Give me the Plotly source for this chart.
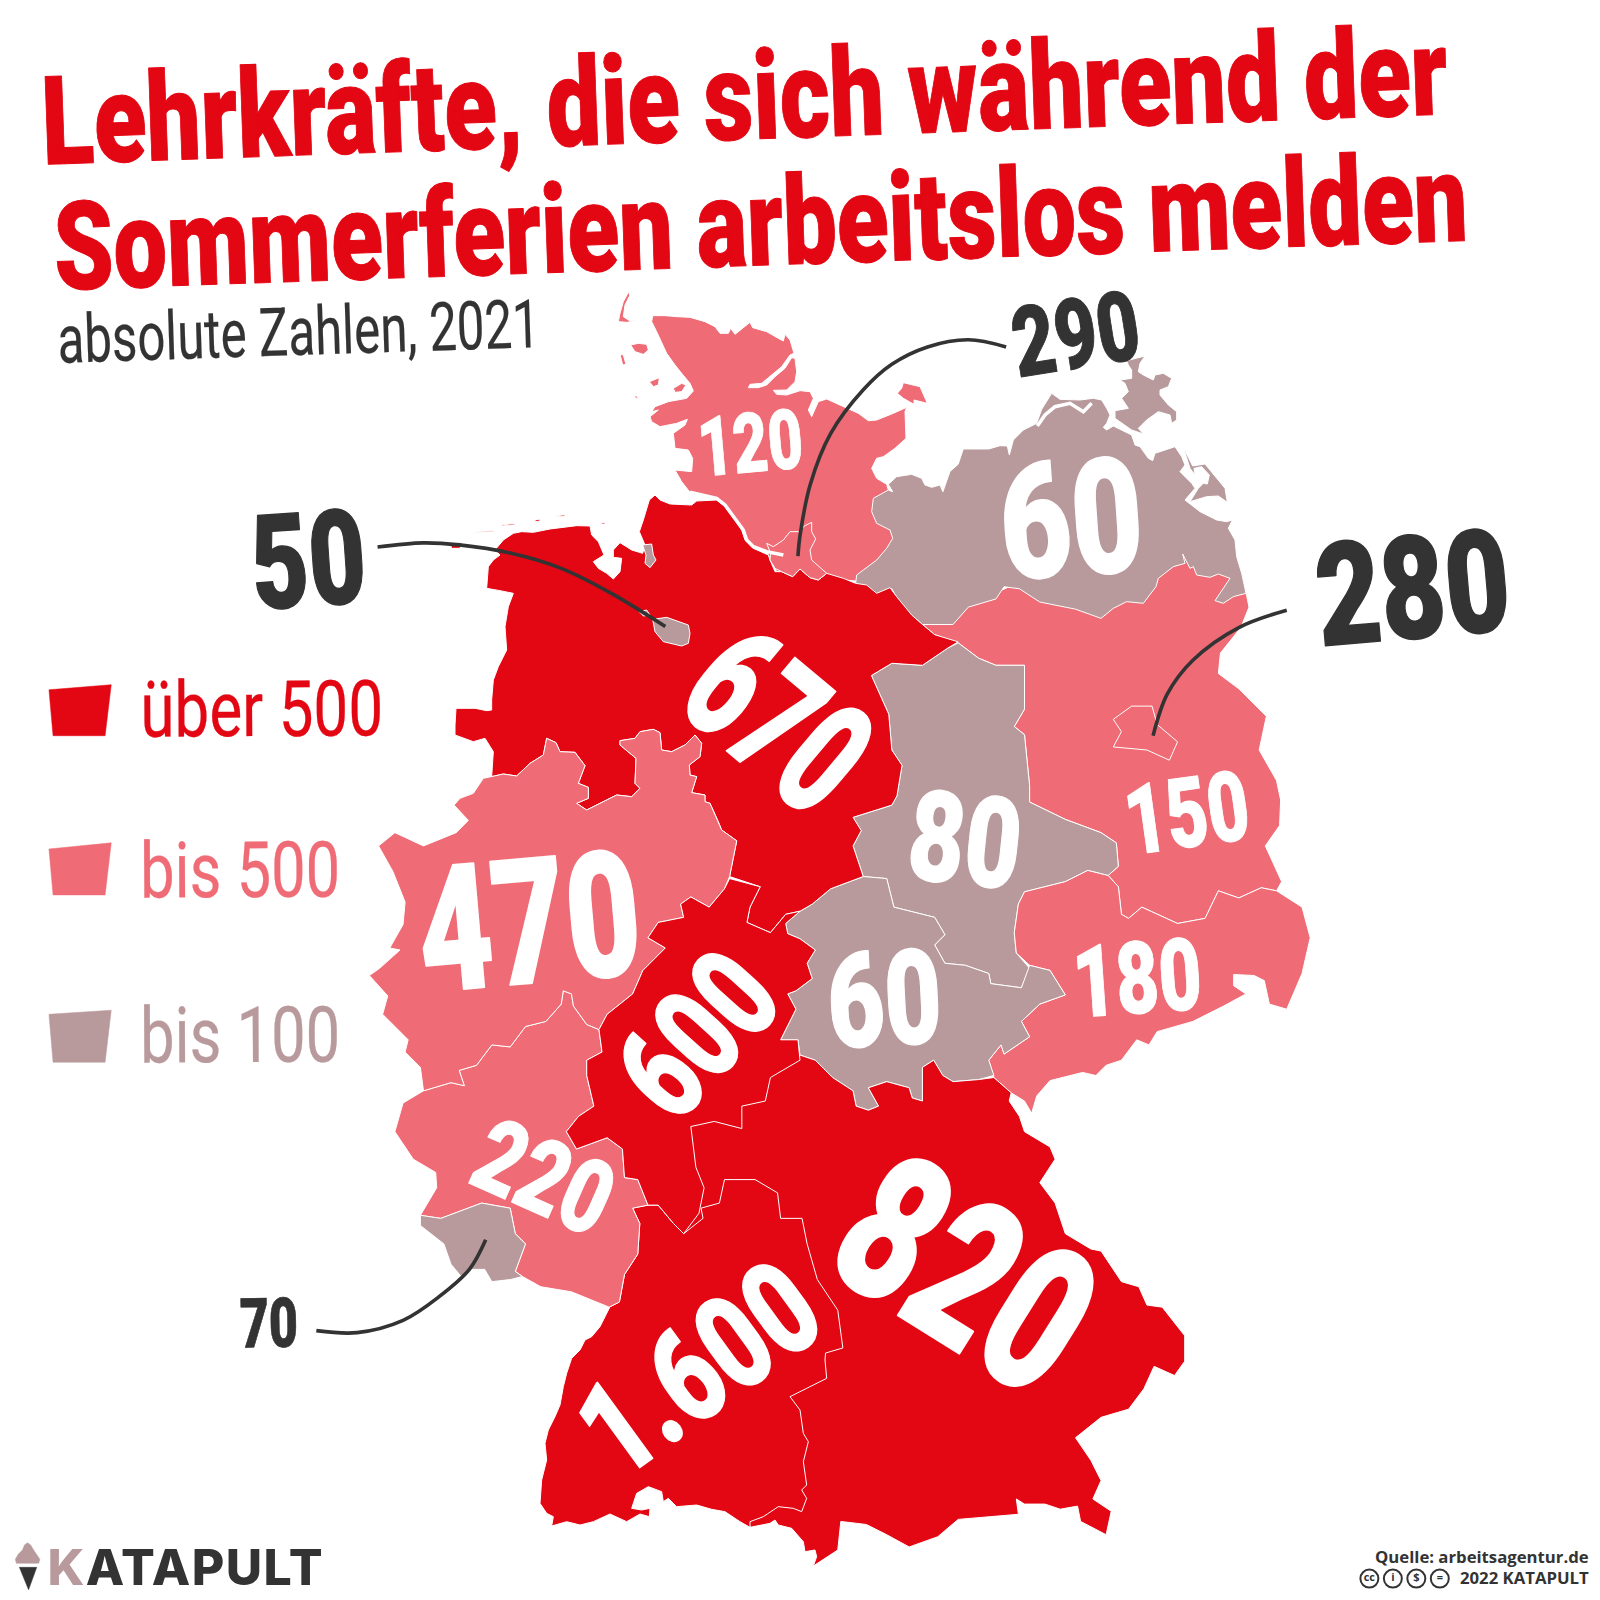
import json
import plotly.graph_objects as go

RED = "#e30613"
PINK = "#ef6b75"
MAUVE = "#b99a9c"
DARK = "#333333"
W_UNITS = 1568.0
PX = 1600.0 / W_UNITS

# --- category values ---
state_names = ["Schleswig-Holstein", "Hamburg", "Mecklenburg-Vorpommern", "Brandenburg", "Berlin",
               "Sachsen-Anhalt", "Thüringen", "Sachsen", "Bayern", "Baden-Württemberg", "Hessen",
               "Rheinland-Pfalz", "Saarland", "Niedersachsen", "Nordrhein-Westfalen", "Bremen"]
state_values = [120, 290, 60, 150, 280, 80, 60, 180, 820, 1600, 600, 220, 70, 670, 470, 50]
legend_labels = ["über 500", "bis 500", "bis 100"]


def bucket(v):
    return RED if v > 500 else PINK if v > 100 else MAUVE


def cr(ox, oy, pts):
    """outline traced on a 3x enlargement whose corner is (ox, oy) -> map units"""
    return [((ox + x / 3) / PX, (oy + y / 3) / PX) for x, y in pts]


def A(pts):
    return cr(610, 285, pts)


def B(pts):
    return cr(1000, 340, pts)


def C(pts):
    return cr(450, 500, pts)


def D(pts):
    return cr(530, 1290, pts)


# --- outlines ---
SH = A([(128,92),(165,92),(200,95),(240,97),(285,110),(315,125),(330,145),(355,145),(362,130),(375,148),(400,128),(420,112),(428,128),(470,140),(505,160),(520,168),(525,148),(540,165),(552,205),(540,210),(515,245),(480,275),(455,295),(420,298),(415,308),(445,308),(470,300),(495,275),(525,250),(545,218),(555,220),(560,260),(555,290),(530,315),(490,316),(500,328),(530,330),(570,317),(600,320),(610,340),(595,375),(605,395),(625,350),(650,342),(700,365),(745,385),(775,407),(800,405),(850,385),(890,367),(885,380),(888,460),(855,490),(820,515),(800,520),(785,550),(800,580),(830,598),(835,615),(860,700),(860,800),(760,890),(650,880),(500,860),(470,800),(430,785),(405,755),(400,730),(375,700),(345,660),(320,640),(260,625),(240,622),(215,590),(195,555),(245,560),(248,520),(235,495),(195,490),(190,445),(225,420),(232,403),(200,415),(150,425),(125,410),(120,395),(145,375),(125,380),(135,365),(175,350),(230,340),(250,318),(240,295),(215,265),(195,240),(170,205),(155,170),(140,140),(125,110)])
FEHMARN = A([(880,293),(905,300),(930,305),(952,355),(912,345),(912,358),(880,340),(862,325),(875,310)])
SYLT = A([(55,22),(40,50),(30,85),(25,110),(50,112),(95,105),(60,108),(40,95),(45,60),(60,30)])
FOEHR = A([(62,180),(85,175),(110,178),(115,195),(100,208),(75,200)])
AMRUM = A([(30,208),(40,210),(48,238),(38,240)])
NORDSTRAND = A([(190,310),(215,295),(228,300),(215,320),(195,322)])
PELLWORM = A([(118,290),(148,278),(145,300),(130,305)])
ISLET = A([(75,330),(82,335),(85,342),(75,338)])
HH = A([(470,775),(490,785),(520,765),(540,740),(565,740),(585,722),(605,712),(605,740),(617,762),(600,795),(605,825),(650,865),(625,885),(600,878),(570,852),(548,875),(515,860),(495,850),(480,825),(482,805)])
MV = A([(737,895),(740,870),(760,855),(800,825),(830,790),(848,760),(840,735),(800,715),(785,680),(790,640),(835,615),(848,620),(835,598),(860,575),(905,568),(935,580),(945,600),(965,607),(990,600)]) + [(924,482),(931,462),(939,455),(944,440),(969,440)] + B([(0,317),(22,318),(28,345),(40,300),(70,270),(110,250),(125,208),(155,160),(180,178),(240,180),(280,175),(305,180),(320,205),(330,225),(320,250),(310,262),(320,270),(340,258),(395,285),(405,315),(420,320),(445,355),(458,362),(465,340),(525,320),(545,350),(555,375),(540,395),(575,430),(585,445),(555,480),(600,515),(650,540),(680,545),(697,540),(685,565),(705,600),(710,650),(725,700),(738,760),(700,770),(670,790),(645,782),(690,715),(655,702),(630,712),(590,705),(580,680),(570,685),(548,642),(555,670),(520,680),(475,715),(468,740),(430,790),(380,785),(340,805)]) + [(1079,606),(1054,597),(1019,590),(999,577),(984,575),(976,587),(949,595),(934,612),(904,612),(884,595),(874,577),(859,582)]
RUEGEN = B([(380,62),(410,55),(435,48),(420,70),(415,95),(430,105),(460,120),(465,105),(490,100),(515,115),(505,140),(480,150),(480,165),(505,195),(530,215),(530,240),(515,250),(510,225),(475,215),(440,240),(415,265),(430,282),(395,270),(345,235),(345,212),(385,205),(365,175),(385,155),(375,130),(360,120),(395,115),(395,90),(385,75)])
USEDOM = B([(550,322),(578,378),(615,372),(675,445),(682,487),(655,468),(620,470),(590,480),(570,485),(595,445),(610,430),(622,432),(628,405),(605,380),(582,385),(585,405),(570,385)])
BB = [(904,612),(934,600),(1000,570),(1100,580),(1160,530),(1221,580),(1224,595),(1216,615),(1196,640),(1194,660),(1214,675),(1241,702),(1234,735),(1251,765),(1255,784),(1254,809),(1240,829),(1256,864),(1251,873),(1236,870),(1214,880),(1194,873),(1181,900),(1154,905),(1119,889),(1106,900),(1099,896),(1096,869),(1086,858),(1096,849),(1094,826),(1079,816),(1044,803),(1009,786),(1009,770),(1004,720),(994,712),(1004,695),(1004,652),(976,652),(959,645),(939,630),(916,622)]
BE = [(1091,705),(1109,692),(1129,692),(1134,710),(1154,727),(1146,745),(1124,735),(1091,732),(1099,717)]
ST = [(854,662),(874,650),(904,652),(929,635),(939,630),(959,645),(976,652),(1004,652),(1004,695),(994,712),(1004,720),(1009,770),(1009,786),(1044,803),(1079,816),(1094,826),(1096,849),(1086,858),(1066,853),(1044,864),(1004,874),(998,886),(994,914),(996,934),(1009,949),(1001,968),(971,964),(969,954),(946,946),(926,944),(916,926),(926,916),(916,899),(876,889),(869,861),(846,859),(836,829),(844,814),(836,801),(874,789),(879,780),(884,750),(874,735),(871,700)]
TH = [(846,859),(869,861),(876,889),(916,899),(926,916),(916,926),(926,944),(946,946),(969,954),(971,964),(1001,968),(1009,946),(1029,951),(1044,975),(1019,984),(1001,1001),(1009,1016),(984,1033),(981,1024),(969,1039),(974,1054),(959,1058),(934,1060),(924,1054),(915,1039),(904,1046),(904,1079),(894,1076),(891,1066),(869,1060),(851,1066),(861,1084),(851,1088),(839,1084),(836,1069),(816,1056),(799,1039),(784,1034),(782,1019),(765,1019),(780,989),(772,974),(780,971),(796,959),(791,944),(799,931),(784,920),(772,915),(770,905),(784,893),(796,886),(814,871)]
SN = [(1009,946),(996,934),(994,914),(998,886),(1004,874),(1044,864),(1066,853),(1086,858),(1096,869),(1099,896),(1106,900),(1119,889),(1154,905),(1181,900),(1194,873),(1214,880),(1236,870),(1251,873),(1276,889),(1284,919),(1276,954),(1261,989),(1244,984),(1239,961),(1229,956),(1209,955),(1209,966),(1221,974),(1199,986),(1169,1001),(1134,1011),(1126,1024),(1114,1019),(1099,1039),(1084,1044),(1074,1054),(1061,1051),(1029,1059),(1016,1074),(1011,1091),(1004,1079),(991,1071),(974,1056),(969,1039),(981,1024),(984,1033),(1009,1016),(1001,1001),(1019,984),(1044,975),(1029,951)]
BY = [(784,1034),(799,1039),(816,1056),(836,1069),(839,1084),(851,1088),(861,1084),(851,1066),(869,1060),(891,1066),(894,1076),(904,1079),(904,1046),(915,1039),(924,1054),(934,1060),(959,1058),(974,1056),(991,1071),(989,1079),(999,1094),(1004,1109),(1029,1124),(1034,1136),(1019,1159),(1034,1179),(1044,1209),(1069,1224),(1079,1226),(1099,1256),(1116,1261),(1124,1279),(1139,1281),(1161,1309),(1161,1334),(1151,1348),(1131,1339),(1121,1361),(1106,1381),(1079,1389),(1054,1409),(1069,1431),(1079,1451),(1071,1469),(1089,1481),(1084,1504),(1059,1491),(1056,1476),(1039,1479),(1024,1474),(1004,1474),(996,1469),(998,1484),(939,1489),(919,1506),(891,1516),(869,1504),(849,1494),(824,1491),(821,1519)] + D([(850,828),(860,800),(855,780),(825,785),(820,755),(785,715),(745,705),(735,690),(720,700),(660,712)]) + [(700,1300),(660,1180),(660,1090),(755,1050)]
BW = [(710,1156),(740,1156),(762,1169),(765,1194),(786,1194),(791,1219),(801,1254),(821,1284),(826,1321),(809,1326)] + D([(885,210),(890,265),(830,295),(780,320),(810,360),(820,430),(835,455),(820,515),(830,585),(815,600),(830,625),(815,665),(790,655),(745,650),(700,680),(660,695),(660,712),(630,695),(585,665),(545,658),(500,645),(440,650),(415,625),(400,635),(395,605),(355,590),(320,610),(305,655),(335,660),(360,655),(358,680),(330,672),(290,695),(240,672),(190,695),(150,705),(110,695),(65,708),(70,680),(50,670),(30,640),(35,570),(50,510),(45,460),(55,420),(75,380),(90,345),(100,290),(110,250),(125,205),(150,180),(165,150),(185,140),(210,110),(240,50)]) + [(607,1276),(612,1249),(625,1229),(627,1199),(620,1184),(635,1181),(645,1181),(660,1199),(670,1209),(689,1194),(687,1184),(705,1179)]
HE = [(715,861),(745,869),(735,889),(732,904),(755,914),(770,896),(784,893),(770,905),(772,915),(784,920),(799,931),(791,944),(796,959),(780,971),(772,974),(780,989),(765,1019),(782,1019),(784,1039),(755,1056),(750,1079),(727,1084),(727,1106),(700,1099),(677,1104),(682,1144),(690,1164),(685,1189),(670,1209),(660,1199),(645,1181),(635,1181),(625,1156),(612,1154),(610,1126),(595,1115),(565,1126),(555,1109),(567,1094),(582,1084),(575,1054),(575,1039),(590,1031),(587,1009),(595,994),(620,974),(630,951),(652,929),(635,919),(645,904),(670,899),(667,886),(677,879),(695,889),(710,871)]
RP = [(415,1069),(395,1081),(387,1109),(405,1136),(427,1149),(428,1164),(412,1191),(432,1194),(472,1179),(500,1184),(505,1209),(515,1219),(505,1246),(512,1251),(530,1261),(560,1266),(597,1281),(607,1276),(612,1249),(625,1229),(627,1199),(620,1184),(635,1181),(625,1156),(612,1154),(610,1126),(595,1115),(565,1126),(555,1109),(567,1094),(582,1084),(575,1054),(575,1039),(590,1031),(587,1009),(575,1004),(562,986),(560,974),(552,971),(550,984),(535,1001),(515,1006),(500,1026),(482,1024),(467,1044),(450,1049),(455,1064),(442,1061),(425,1066)]
SL = [(412,1191),(432,1194),(472,1179),(500,1184),(505,1209),(515,1219),(505,1246),(512,1251),(500,1254),(482,1256),(475,1244),(460,1244),(452,1251),(442,1239),(435,1219),(412,1201)]

NI_NW_BORDER = C([(30,895),(70,880),(100,835),(125,830),(160,822),(200,828),(240,790),(280,765),(285,740),(290,715),(318,728),(330,755),(375,757),(405,797),(385,850),(415,862),(415,895),(380,910),(410,930),(440,915),(480,895),(500,885),(545,890),(570,865),(555,850),(558,775),(510,735),(510,722),(555,715),(570,695),(610,688),(630,698),(635,750),(665,755),(705,735),(735,705),(755,730),(750,770),(718,795),(720,825),(740,830),(725,878),(765,885),(765,905),(780,910),(805,965),(815,990)])
NI = C([(15,675),(18,625),(75,625),(110,632),(125,630),(125,600),(130,540),(145,500),(170,450),(165,380),(175,320),(190,280),(150,272),(110,265),(115,200),(130,180),(150,165),(135,150),(160,120),(190,100),(215,95),(250,97),(300,87),(380,77),(420,78),(425,105),(445,125),(462,165),(430,185),(445,205),(470,220),(490,237),(510,215),(515,175),(490,172),(490,150),(510,128),(545,150),(578,160),(585,135),(568,95),(580,60),(598,0)]) + A([(135,630),(150,645),(180,657),(245,660),(260,648),(320,645),(345,665),(375,705),(395,735),(405,765),(430,790),(475,810),(480,825),(495,860),(515,860),(548,875),(570,852),(600,878),(625,885),(650,865),(700,880),(737,895),(770,900),(800,925),(840,908),(860,935),(880,960),(905,990)]) + [(904,612),(916,622),(939,629),(929,635),(904,652),(874,650),(854,662),(871,700),(874,735),(884,750),(879,780),(874,789),(836,801),(844,814),(836,829),(846,859),(814,871),(796,886),(784,893),(770,896),(755,914),(732,904),(735,889),(745,869),(715,859),(722,824)] + NI_NW_BORDER[:2:-1] + C([(130,755),(105,715),(70,725),(15,705)])
NW = NI_NW_BORDER + [(722,824),(715,859),(710,871),(695,889),(677,879),(667,886),(670,899),(645,904),(635,919),(652,929),(630,951),(620,974),(595,994),(587,1009),(575,1004),(562,986),(560,974),(552,971),(550,984),(535,1001),(515,1006),(500,1026),(482,1024),(467,1044),(450,1049),(455,1064),(442,1061),(425,1066),(415,1069),(412,1046),(397,1031),(400,1019),(375,994),(380,976),(362,956),(372,949),(392,931),(382,929),(395,906),(397,884),(385,854),(371,829),(387,816),(415,829),(447,816),(459,804),(445,789)]
HB = C([(608,358),(650,352),(715,375),(720,400),(715,430),(695,438),(640,425),(615,395)])
HB_NORD = C([(568,335),(590,330),(600,345),(580,348)])
HBV = C([(578,135),(605,132),(610,165),(618,180),(600,203),(585,190),(588,165)])
FRISIAN_1 = C([(75,95),(130,92),(130,95),(75,97)])
FRISIAN_2 = C([(155,75),(195,70),(195,74),(155,78)])
FRISIAN_3 = C([(255,60),(270,57),(270,63),(255,65)])
FRISIAN_4 = C([(320,47),(345,44),(345,48),(320,50)])
FRISIAN_5 = C([(455,68),(465,67),(465,72),(455,72)])
FRISIAN_6 = C([(0,130),(35,128),(30,145),(5,145)])

state_shapes = [
    ("Schleswig-Holstein", [SH, FEHMARN, SYLT, FOEHR, AMRUM, NORDSTRAND, PELLWORM, ISLET]),
    ("Brandenburg", [BB]),
    ("Berlin", [BE]),
    ("Mecklenburg-Vorpommern", [MV, RUEGEN, USEDOM]),
    ("Sachsen-Anhalt", [ST]),
    ("Sachsen", [SN]),
    ("Thüringen", [TH]),
    ("Bayern", [BY]),
    ("Baden-Württemberg", [BW]),
    ("Rheinland-Pfalz", [RP]),
    ("Saarland", [SL]),
    ("Niedersachsen", [NI, FRISIAN_1, FRISIAN_2, FRISIAN_3, FRISIAN_4, FRISIAN_5, FRISIAN_6]),
    ("Hamburg", [HH]),
    ("Nordrhein-Westfalen", [NW]),
    ("Hessen", [HE]),
    ("Bremen", [HB, HB_NORD, HBV]),
]

# water cuts
ELBE = A([(240,622),(320,640),(345,660),(375,700),(400,735),(410,765),(430,785),(470,800),(520,810)])
BODDEN = B([(112,258),(135,225),(165,200),(210,190),(250,215),(275,190)])

# leader lines
LEAD_50 = [(370,536),(415,532),(450,534),(500,542),(550,557),(600,582),(652,614)]
LEAD_290 = [(986,340),(949,333),(909,340),(874,357),(846,382),(814,425),(794,475),(784,525),(782,545)]
LEAD_280 = [(1261,598),(1214,615),(1169,647),(1144,680),(1130,721)]
LEAD_70 = [(310,1304),(350,1306),(395,1294),(430,1271),(460,1244),(476,1215)]

# value labels: text, colour, x, y, angle, digit height, run length
value_labels = [
    ("120", "white", 735, 435, -5, 58, 103),
    ("60", "white", 1050, 510, -4, 112, 140),
    ("670", "white", 761, 707, 40, 113, 178),
    ("80", "white", 946, 824, 6, 88, 110),
    ("150", "white", 1163, 797, -8, 68, 122),
    ("470", "white", 518, 905, -5, 122, 218),
    ("180", "white", 1115, 959, -4, 70, 126),
    ("60", "white", 867, 980, -3, 92, 112),
    ("600", "white", 684, 1014, -48, 92, 163),
    ("220", "white", 533, 1154, 24, 72, 137),
    ("820", "white", 946, 1250, 32, 142, 250),
    ("1.600", "white", 685, 1342, -36, 92, 255),
    ("50", DARK, 302, 550, -4, 92, 112),
    ("290", DARK, 1054, 328, -9, 68, 125),
    ("280", DARK, 1385, 577, -5, 100, 190),
    ("70", DARK, 264, 1297, -1, 48, 57),
]
title_lines = [
    ("Lehrkräfte, die sich während der", RED, 730, 95, -2.05, 86, 1378),
    ("Sommerferien arbeitslos melden", RED, 745, 218, -2.0, 86, 1386),
]
subtitle_text = ("absolute Zahlen, 2021", DARK, 293, 325, -1.9, 47, 473)
legend_y = [695, 853, 1015]
legend_run = [238, 196, 196]

fig = go.Figure()


def poly(points, colour, name, line="white", lw=1.0):
    fig.add_trace(go.Scatter(x=[p[0] for p in points] + [points[0][0]],
                             y=[p[1] for p in points] + [points[0][1]],
                             mode="lines", fill="toself", fillcolor=colour,
                             line=dict(color=line, width=lw), name=name,
                             hoverinfo="name", showlegend=False))


value_by_name = dict(zip(state_names, state_values))
for name, parts in state_shapes:
    for part in parts:
        poly(part, bucket(value_by_name[name]), name)

for cut in (ELBE, BODDEN):
    fig.add_trace(go.Scatter(x=[p[0] for p in cut], y=[p[1] for p in cut], mode="lines",
                             line=dict(color="white", width=3.5), hoverinfo="skip", showlegend=False))

for lead in (LEAD_50, LEAD_290, LEAD_280, LEAD_70):
    fig.add_trace(go.Scatter(x=[p[0] for p in lead], y=[p[1] for p in lead], mode="lines",
                             line=dict(color=DARK, width=3.6, shape="spline", smoothing=1.0),
                             hoverinfo="skip", showlegend=False))

# legend swatches
SWATCH_RED = [(48,676),(109,671),(103,721),(52,721)]
SWATCH_PINK = [(48,832),(109,826),(103,877),(52,877)]
SWATCH_MAUVE = [(48,994),(109,990),(103,1041),(52,1041)]
for s, c, n in ((SWATCH_RED, RED, legend_labels[0]), (SWATCH_PINK, PINK, legend_labels[1]), (SWATCH_MAUVE, MAUVE, legend_labels[2])):
    poly(s, c, n, line=c, lw=0.5)

# logo icon
CONE = [(19,1536),(36,1536),(28,1558)]
SCOOP = [(27,1512),(30,1514),(33,1519),(36,1523),(39,1528),(38,1532),(16,1532),(15,1528),(18,1523),(22,1519),(24,1514)]
poly(CONE, DARK, "logo", line=DARK, lw=0.5)
poly(SCOOP, MAUVE, "logo", line=MAUVE, lw=0.5)

# licence badges
BADGE_X = [1342, 1365, 1388, 1411]
BADGE_Y = [1547, 1547, 1547, 1547]
BADGE_TXT = ["cc", "i", "$", "="]
fig.add_trace(go.Scatter(x=BADGE_X, y=BADGE_Y, mode="markers+text", text=BADGE_TXT,
                         textposition="middle center",
                         textfont=dict(family="Open Sans", size=11, color=DARK, weight=700),
                         marker=dict(size=18, color="white", line=dict(color=DARK, width=2)),
                         hoverinfo="skip", showlegend=False))

annotations = []
text_fits = []


def label(text, colour, x, y, angle, height, run, family="Roboto", weight=900, embolden=0.0, cap=0.711, layout_scale=1.0):
    size = height / cap * PX
    annotations.append(dict(text=text, x=x, y=y, xref="x", yref="y", showarrow=False,
                            xanchor="center", yanchor="middle", textangle=angle,
                            font=dict(family=family, size=size * layout_scale, color=colour, weight=weight)))
    text_fits.append([run * PX, embolden, colour, size, (1 - layout_scale) * size * 0.36])


for t in title_lines:
    label(*t, embolden=1.0, layout_scale=0.7)
label(*subtitle_text, weight=400, embolden=0.2)
for t in value_labels:
    label(*t, embolden=t[5] * 0.015)
for txt, yy, run, col in zip(legend_labels, legend_y, legend_run, (RED, PINK, MAUVE)):
    label(txt, col, 137 + run / 2, yy, -0.3, 54, run, weight=400, embolden=0.3)

# logo and source lines (natural width)
annotations.append(dict(text="<span style='color:%s'>K</span>ATAPULT" % MAUVE, x=50, y=1536, xref="x", yref="y", showarrow=False,
                        xanchor="left", yanchor="middle",
                        font=dict(family="Inter", size=49 * PX, color=DARK, weight=800)))
annotations.append(dict(text="Quelle: arbeitsagentur.de", x=1559, y=1525, xref="x", yref="y", showarrow=False,
                        xanchor="right", yanchor="middle",
                        font=dict(family="Open Sans", size=16.4 * PX, color=DARK, weight=700)))
annotations.append(dict(text="2022 KATAPULT", x=1559, y=1546, xref="x", yref="y", showarrow=False,
                        xanchor="right", yanchor="middle",
                        font=dict(family="Open Sans", size=16.4 * PX, color=DARK, weight=700)))

fig.update_layout(
    width=1600, height=1600, margin=dict(l=0, r=0, t=0, b=0),
    paper_bgcolor="white", plot_bgcolor="white", showlegend=False,
    xaxis=dict(range=[0, W_UNITS], visible=False, fixedrange=True),
    yaxis=dict(range=[W_UNITS, 0], visible=False, fixedrange=True),
    annotations=annotations,
)

post = """
document.body.style.margin = '0';
var gd = document.getElementById('{plot_id}');
var fits = %s;
var ts = gd.querySelectorAll('.annotation-text');
fits.forEach(function(f, i) {
  var t = ts[i];
  if (!t) return;
  t.style.fontSize = f[3] + 'px';
  if (f[4]) t.setAttribute('dy', f[4]);
  var natural = t.getComputedTextLength();
  var x = parseFloat(t.getAttribute('x')) || 0;
  var sx = f[0] / natural;
  t.setAttribute('transform', 'translate(' + x + ',0) scale(' + sx + ',1) translate(' + (-x) + ',0)');
  if (f[1] > 0) {
    t.style.stroke = f[2];
    t.style.strokeWidth = f[1] + 'px';
    t.style.strokeLinejoin = 'round';
  }
});
if (ts[fits.length]) { ts[fits.length].style.letterSpacing = '1.4px'; }
""" % json.dumps(text_fits)

fig.write_html("out.html", post_script=post, config={"displayModeBar": False},
               default_width=1600, default_height=1600)
